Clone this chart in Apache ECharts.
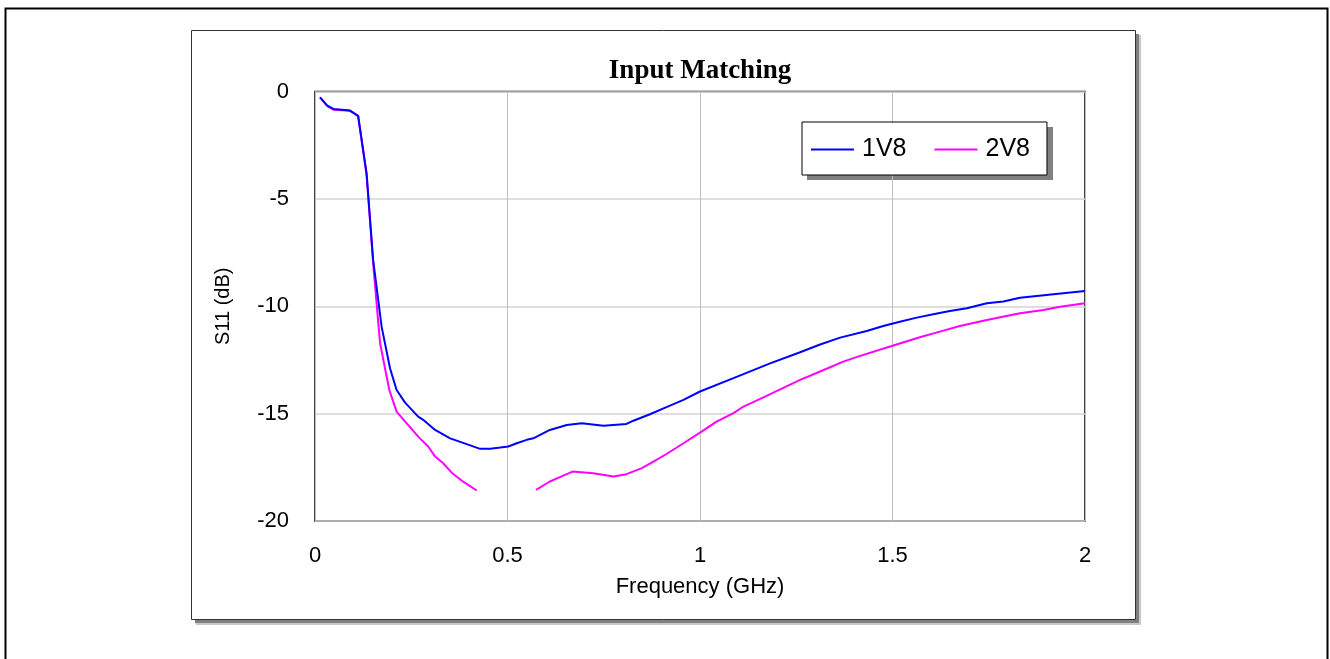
<!DOCTYPE html>
<html>
<head>
<meta charset="utf-8">
<script src="https://cdn.jsdelivr.net/npm/echarts@6/dist/echarts.min.js"></script>
<style>
html,body{margin:0;padding:0;background:#fff;}
#chart{width:1330px;height:659px;}
</style>
</head>
<body>
<div id="chart"></div>
<script>
// Frequency (GHz) and S11 (dB) for each supply
var freq1V8 = [0.013,0.032,0.048,0.07,0.091,0.112,0.134,0.151,0.173,0.195,0.212,0.234,0.268,0.281,0.312,0.351,0.394,0.429,0.455,0.481,0.502,0.524,0.550,0.567,0.610,0.654,0.693,0.749,0.809,0.827,0.870,0.913,0.957,1.0,1.087,1.182,1.260,1.312,1.364,1.433,1.476,1.519,1.563,1.606,1.649,1.693,1.745,1.788,1.831,1.918,2.0];
var s11_1V8 = [-0.27,-0.66,-0.81,-0.85,-0.89,-1.13,-3.81,-7.84,-10.95,-12.9,-13.9,-14.49,-15.14,-15.29,-15.76,-16.15,-16.42,-16.64,-16.64,-16.58,-16.53,-16.38,-16.22,-16.15,-15.76,-15.53,-15.45,-15.56,-15.48,-15.33,-15.03,-14.70,-14.36,-13.97,-13.35,-12.66,-12.14,-11.78,-11.46,-11.15,-10.92,-10.72,-10.53,-10.37,-10.22,-10.09,-9.86,-9.78,-9.60,-9.44,-9.29];

var freq2V8 = [0.013,0.032,0.048,0.07,0.091,0.112,0.134,0.151,0.169,0.193,0.212,0.234,0.247,0.268,0.294,0.312,0.333,0.355,0.385,0.420,null,0.574,0.610,0.636,0.669,0.723,0.775,0.809,0.849,0.879,0.913,0.957,1.004,1.043,1.087,1.113,1.173,1.260,1.312,1.372,1.416,1.502,1.571,1.623,1.675,1.745,1.831,1.892,1.935,2.0];
var s11_2V8 = [-0.27,-0.68,-0.85,-0.87,-0.9,-1.15,-3.9,-8.0,-11.72,-13.9,-14.91,-15.37,-15.63,-16.07,-16.53,-17.0,-17.31,-17.75,-18.17,-18.58,null,-18.55,-18.16,-17.96,-17.70,-17.78,-17.93,-17.82,-17.54,-17.23,-16.88,-16.38,-15.84,-15.37,-14.98,-14.67,-14.17,-13.43,-13.04,-12.58,-12.31,-11.83,-11.44,-11.18,-10.92,-10.64,-10.33,-10.17,-10.02,-9.86];

var seriesNames = ['1V8','2V8'];
var xTicks = {0:'0',0.5:'0.5',1:'1',1.5:'1.5',2:'2'};

function pairs(xs, ys){
  return xs.map(function(x,i){ return (x===null||ys[i]===null) ? null : [x, ys[i]]; });
}

var chart = echarts.init(document.getElementById('chart'), null, {renderer:'canvas'});
var sans = '"Liberation Sans", Arial, sans-serif';
chart.setOption({
  animation:false,
  backgroundColor:'#ffffff',
  title:{
    text:'Input Matching',
    left:700, top:58, textAlign:'center', padding:0,
    textStyle:{fontFamily:'"Liberation Serif", "Times New Roman", serif', fontWeight:'bold', fontSize:27, color:'#000'}
  },
  graphic:[
    {type:'rect', z:-10, shape:{x:5.5,y:8.5,width:1322,height:720}, style:{fill:'#fff', stroke:'#000', lineWidth:2}},
    {type:'rect', z:-9, shape:{x:196,y:35,width:945,height:590}, style:{fill:'#c8c8c8'}},
    {type:'rect', z:-8, shape:{x:195,y:34,width:944,height:589}, style:{fill:'#7f7f7f'}},
    {type:'rect', z:-7, shape:{x:191.5,y:30.5,width:944,height:589}, style:{fill:'#fff', stroke:'#333', lineWidth:1}},
    {type:'rect', z:-6, shape:{x:807,y:127,width:246,height:53}, style:{fill:'#808080'}}
  ],
  legend:{
    data:seriesNames,
    left:802, top:122,
    orient:'horizontal',
    padding:[15,17,13,9],
    itemGap:28,
    itemWidth:43, itemHeight:2,
    icon:'rect',
    backgroundColor:'#fff',
    borderColor:'#000', borderWidth:1,
    textStyle:{fontFamily:sans, fontSize:25, color:'#000', lineHeight:25, padding:[0,0,0,3]}
  },
  grid:{left:315, right:245, top:91.5, bottom:138, show:true, borderColor:'#000', borderWidth:1.5, backgroundColor:'transparent'},
  xAxis:{
    type:'value', min:0, max:2, interval:0.5,
    name:'Frequency (GHz)', nameLocation:'middle', nameGap:55,
    nameTextStyle:{fontFamily:sans, fontSize:22, color:'#000'},
    axisLine:{show:false}, axisTick:{show:false},
    axisLabel:{fontFamily:sans, fontSize:22, color:'#000', margin:24, formatter:function(v){return xTicks[v]!==undefined?xTicks[v]:String(v);}},
    splitLine:{show:true, lineStyle:{color:'#c0c0c0', width:1}}
  },
  yAxis:{
    type:'value', min:-20, max:0, interval:5,
    name:'S11 (dB)', nameLocation:'middle', nameGap:82, nameRotate:90,
    nameTextStyle:{fontFamily:sans, fontSize:20, color:'#000'},
    axisLine:{show:false}, axisTick:{show:false},
    axisLabel:{fontFamily:sans, fontSize:22, color:'#000', margin:26, padding:[5,0,0,0]},
    splitLine:{show:true, lineStyle:{color:'#d3d3d3', width:1.5}}
  },
  series:[
    {name:seriesNames[0], type:'line', data:pairs(freq1V8, s11_1V8), showSymbol:false, symbol:'none', connectNulls:false,
     lineStyle:{color:'#0000ff', width:2}, itemStyle:{color:'#0000ff'}, z:3},
    {name:seriesNames[1], type:'line', data:pairs(freq2V8, s11_2V8), showSymbol:false, symbol:'none', connectNulls:false,
     lineStyle:{color:'#ff00ff', width:2}, itemStyle:{color:'#ff00ff'}, z:2}
  ]
});
</script>
</body>
</html>
